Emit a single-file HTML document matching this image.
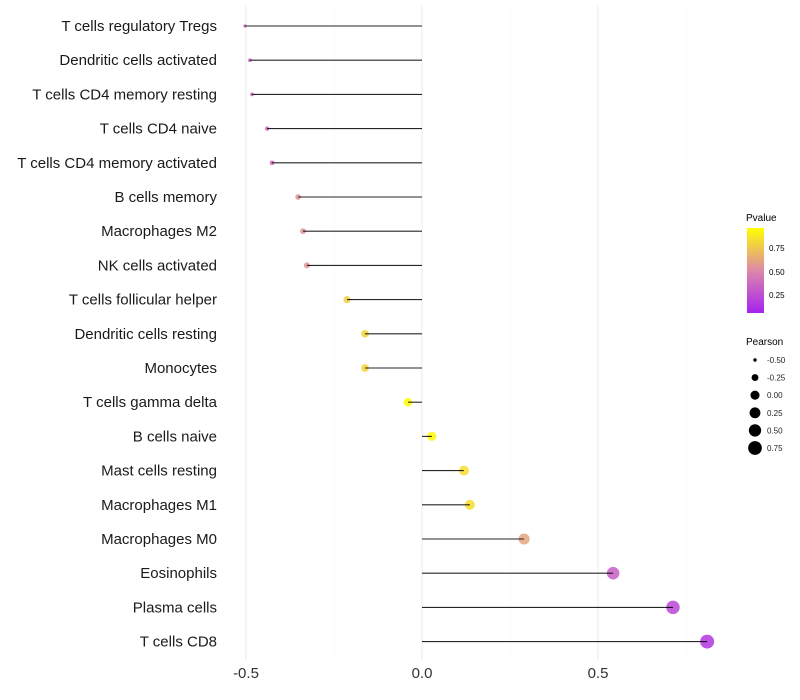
<!DOCTYPE html>
<html><head><meta charset="utf-8"><style>
body{margin:0;background:#fff;font-family:"Liberation Sans",Arial,sans-serif;}
svg{display:block}
</style></head><body>
<svg id="chart" width="800" height="700">
<g id="grid"></g>
<g id="pts"></g>
<g id="segs"></g>
<g id="ylab"></g>
<g id="xlab"></g>
<g id="legend">
<defs><linearGradient id="pg" x1="0" y1="1" x2="0" y2="0">
<stop offset="0" stop-color="#a722f0"/><stop offset="0.5" stop-color="#dd88a8"/><stop offset="1" stop-color="#ffff00"/></linearGradient></defs>
<text x="746" y="221" font-size="10">Pvalue</text>
<rect x="747" y="228" width="17" height="85" fill="url(#pg)"/>
<text x="769" y="251" font-size="8">0.75</text>
<text x="769" y="275" font-size="8">0.50</text>
<text x="769" y="298" font-size="8">0.25</text>
<text x="746" y="345" font-size="10">Pearson</text>
<g id="sizeleg"></g>
</g>
</svg>
<script>
const categories=["T cells regulatory  Tregs","Dendritic cells activated","T cells CD4 memory resting","T cells CD4 naive","T cells CD4 memory activated","B cells memory","Macrophages M2","NK cells activated","T cells follicular helper","Dendritic cells resting","Monocytes","T cells gamma delta","B cells naive","Mast cells resting","Macrophages M1","Macrophages M0","Eosinophils","Plasma cells","T cells CD8"];
const pearson=[-0.503,-0.489,-0.483,-0.44,-0.426,-0.352,-0.338,-0.327,-0.213,-0.162,-0.162,-0.04,0.028,0.119,0.136,0.29,0.543,0.713,0.81];
const pvalues=[0.3,0.3,0.32,0.35,0.35,0.55,0.55,0.56,0.8,0.82,0.82,0.98,0.97,0.86,0.86,0.62,0.3,0.18,0.1];
const xTicks=[-0.5,0,0.5];
const xTickLabels=["-0.5","0.0","0.5"];
const sizeLegendVals=[-0.5,-0.25,0,0.25,0.5,0.75];
const sizeLegendLabels=["-0.50","-0.25","0.00","0.25","0.50","0.75"];
const NS="http://www.w3.org/2000/svg";
const xs=v=>422+v*352;
const ys=i=>26+i*34.2;
const rs=v=>Math.sqrt(Math.max(1,2.9+35.2*(v+0.5)));
function col(p){const stops=[[0,[167,34,240]],[0.5,[221,136,168]],[1,[255,255,0]]];
 let a=stops[0],b=stops[1];if(p>0.5){a=stops[1];b=stops[2];}
 const t=(p-a[0])/(b[0]-a[0]);const c=a[1].map((x,k)=>Math.round(x+(b[1][k]-x)*t));
 return `rgb(${c[0]},${c[1]},${c[2]})`;}
function mk(tag,attrs,parent){const e=document.createElementNS(NS,tag);for(const k in attrs)e.setAttribute(k,attrs[k]);parent.appendChild(e);return e;}
const grid=document.getElementById('grid');
[-0.5,-0.25,0,0.25,0.5,0.75].forEach(v=>{const l=mk('line',{x1:xs(v),x2:xs(v),y1:5,y2:660,stroke:v%0.5===0?'#ebebeb':'#f3f3f3','stroke-width':v%0.5===0?1:0.6},grid);

});
const segs=document.getElementById('segs'),pts=document.getElementById('pts'),yl=document.getElementById('ylab');
categories.forEach((c,i)=>{
 const p=mk('circle',{cx:xs(pearson[i]),cy:ys(i),r:rs(pearson[i]),fill:col(pvalues[i]),'fill-opacity':0.85},pts);
 
 
 const s=mk('line',{x1:xs(0),x2:xs(pearson[i]),y1:ys(i),y2:ys(i),stroke:'#000','stroke-width':1.1,'stroke-opacity':0.85},segs);
 
 
 const t=mk('text',{x:217,y:ys(i)+5,'text-anchor':'end','font-size':15,fill:'#1a1a1a'},yl);t.textContent=c;
 
 
});
const xl=document.getElementById('xlab');
xTicks.forEach((v,i)=>{const t=mk('text',{x:xs(v),y:678,'text-anchor':'middle','font-size':15,fill:'#333'},xl);t.textContent=xTickLabels[i];

});
const sl=document.getElementById('sizeleg');
sizeLegendVals.forEach((v,i)=>{const y=360+i*17.6;
 const c=mk('circle',{cx:755,cy:y,r:rs(v),fill:'#000'},sl);
 
 
 const t=mk('text',{x:767,y:y+3,'font-size':8,fill:'#222'},sl);t.textContent=sizeLegendLabels[i];
 
 });
</script>
</body></html>
